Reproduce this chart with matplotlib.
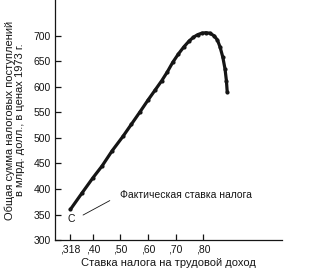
import numpy as np
import matplotlib
matplotlib.use('Agg')
import matplotlib.pyplot as plt

plt.rcParams['font.family'] = ['Liberation Sans', 'DejaVu Sans']

# ставка налога и сумма налоговых поступлений (млрд. долл.)
rate = [0.318, 0.36, 0.40, 0.433, 0.47, 0.509, 0.54, 0.571, 0.60, 0.625,
        0.65, 0.67, 0.69, 0.71, 0.73, 0.75, 0.765, 0.78, 0.795, 0.81,
        0.825, 0.84, 0.852, 0.862, 0.872, 0.88, 0.885, 0.888]
revenue = [360, 392, 422, 445, 475, 503, 527, 551, 574, 593,
           612, 629, 648, 664, 678, 690, 697, 702, 705, 706,
           705, 700, 692, 678, 658, 635, 612, 590]

xticks = [0.318, 0.40, 0.50, 0.60, 0.70, 0.80]
xticklabels = [',318', ',40', ',50', ',60', ',70', ',80']
yticks = [300, 350, 400, 450, 500, 550, 600, 650, 700]

fig = plt.figure(figsize=(3.17, 2.75), dpi=100)
ax = fig.add_axes([0.1735, 0.127, 0.716, 0.873])

ax.plot(rate, revenue, color='#151515', lw=2.3, solid_capstyle='round')
ax.plot(rate, revenue, 'o', color='#151515', ms=2.0)

ax.set_xlim(0.262, 1.087)
ax.set_ylim(300, 770)
ax.set_xticks(xticks)
ax.set_xticklabels(xticklabels)
ax.set_yticks(yticks)
ax.tick_params(direction='in', length=4, width=0.9, labelsize=7.5, colors='#151515', pad=3)

for s in ['top', 'right']:
    ax.spines[s].set_visible(False)
for s in ['left', 'bottom']:
    ax.spines[s].set_linewidth(0.9)
    ax.spines[s].set_color('#151515')

ax.set_xlabel('Ставка налога на трудовой доход', fontsize=8, labelpad=3, color='#151515')
ax.set_ylabel('Общая сумма налоговых поступлений\nв млрд. долл., в ценах 1973 г.',
              fontsize=8, labelpad=6, color='#151515', linespacing=1.05)

ax.annotate('Фактическая ставка налога', xy=(0.364, 349), xytext=(0.498, 388),
            fontsize=7.5, color='#151515', va='center',
            arrowprops=dict(arrowstyle='-', color='#151515', lw=0.6,
                            shrinkA=6, shrinkB=0, relpos=(0, 0.5)))
ax.text(0.32, 342, 'C', fontsize=7.5, ha='center', va='center', color='#151515')

fig.savefig('out.png', dpi=100)
